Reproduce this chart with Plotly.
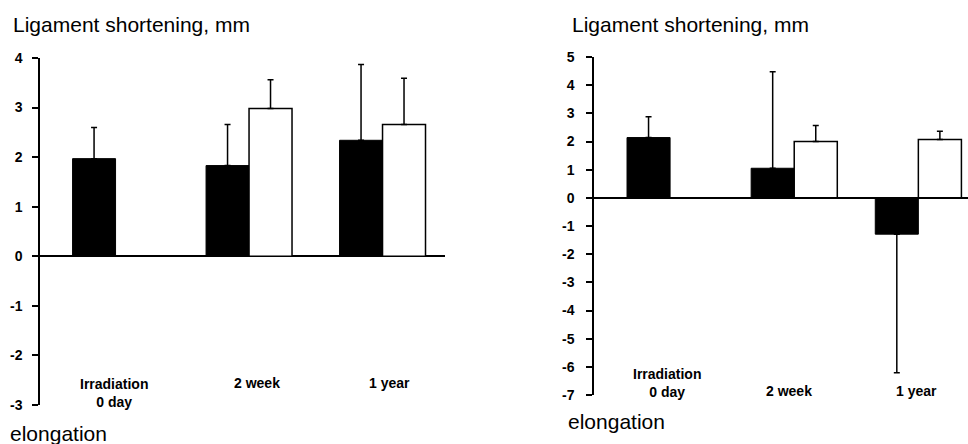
import plotly.graph_objects as go

W, H = 968, 444

# ---- data ----
categories = ["Irradiation<br>0 day", "2 week", "1 year"]

left_black = [1.97, 1.83, 2.34]
left_black_err = [0.63, 0.83, 1.53]
left_white = [None, 2.98, 2.66]
left_white_err = [0, 0.58, 0.93]

right_black = [2.14, 1.05, -1.29]
right_black_err_up = [0.74, 3.43, 0]
right_black_err_down = [0, 0, 4.92]
right_white = [None, 2.00, 2.07]
right_white_err = [0, 0.57, 0.29]

left_tickvals = [-3, -2, -1, 0, 1, 2, 3, 4]
left_ticktext = ["-3", "-2", "-1", "0", "1", "2", "3", "4"]
right_tickvals = [-7, -6, -5, -4, -3, -2, -1, 0, 1, 2, 3, 4, 5]
right_ticktext = ["-7", "-6", "-5", "-4", "-3", "-2", "-1", "0", "1", "2", "3", "4", "5"]

title_text = "Ligament shortening, mm"
bottom_text = "elongation"

FONT = "Liberation Sans, Arial, Helvetica, sans-serif"


def px(x):
    return x / W


def py(y):
    return 1 - y / H


fig = go.Figure()

LW = 0.322  # bar width (category units) left
RW = 0.347  # right

err_style = dict(color="black", thickness=1.5, width=3)

fig.add_trace(go.Bar(
    x=categories, y=left_black, width=LW, offset=-LW,
    marker=dict(color="black", line=dict(color="black", width=1)),
    error_y=dict(type="data", symmetric=False, array=left_black_err,
                 arrayminus=[0, 0, 0], **err_style),
    xaxis="x", yaxis="y", showlegend=False))
fig.add_trace(go.Bar(
    x=categories, y=left_white, width=LW, offset=0,
    marker=dict(color="white", line=dict(color="black", width=1.5)),
    error_y=dict(type="data", symmetric=False, array=left_white_err,
                 arrayminus=[0, 0, 0], **err_style),
    xaxis="x", yaxis="y", showlegend=False))

fig.add_trace(go.Bar(
    x=categories, y=right_black, width=RW, offset=-RW,
    marker=dict(color="black", line=dict(color="black", width=1)),
    error_y=dict(type="data", symmetric=False, array=right_black_err_up,
                 arrayminus=right_black_err_down, **err_style),
    xaxis="x2", yaxis="y2", showlegend=False))
fig.add_trace(go.Bar(
    x=categories, y=right_white, width=RW, offset=0,
    marker=dict(color="white", line=dict(color="black", width=1.5)),
    error_y=dict(type="data", symmetric=False, array=right_white_err,
                 arrayminus=[0, 0, 0], **err_style),
    xaxis="x2", yaxis="y2", showlegend=False))

xaxis_common = dict(showline=False, showticklabels=False, showgrid=False,
                    zeroline=False, ticks="", type="category", automargin=False)
yaxis_common = dict(showline=True, linecolor="black", linewidth=1.5,
                    ticks="outside", ticklen=6, tickwidth=1.5, tickcolor="black",
                    showgrid=False, zeroline=True, zerolinecolor="black",
                    zerolinewidth=1.5, automargin=False,
                    tickfont=dict(family=FONT, size=14, color="black", weight="bold"))

fig.update_layout(
    width=W, height=H, autosize=False,
    margin=dict(l=0, r=0, t=0, b=0, pad=0),
    paper_bgcolor="white", plot_bgcolor="white",
    barmode="overlay",
    font=dict(family=FONT, color="black"),
    xaxis=dict(domain=[px(40), px(445)], range=[-0.566, 2.468], anchor="y", **xaxis_common),
    yaxis=dict(domain=[py(405), py(58)], range=[-3, 4], anchor="x",
               tickvals=left_tickvals, ticktext=left_ticktext,
               ticklabelstandoff=7, **yaxis_common),
    xaxis2=dict(domain=[px(594), 1.0], range=[-0.613, 2.40], anchor="y2", **xaxis_common),
    yaxis2=dict(domain=[py(395), py(57)], range=[-7, 5], anchor="x2",
                tickvals=right_tickvals, ticktext=right_ticktext,
                ticklabelstandoff=9, **yaxis_common),
)

ann = []
title_font = dict(family=FONT, size=21, color="black")
ann.append(dict(text=title_text, xref="paper", yref="paper", x=px(11), y=py(25),
                xanchor="left", yanchor="middle", showarrow=False, font=title_font))
ann.append(dict(text=title_text, xref="paper", yref="paper", x=px(570), y=py(25),
                xanchor="left", yanchor="middle", showarrow=False, font=title_font))
ann.append(dict(text=bottom_text, xref="paper", yref="paper", x=px(8), y=py(433),
                xanchor="left", yanchor="middle", showarrow=False, font=title_font))
ann.append(dict(text=bottom_text, xref="paper", yref="paper", x=px(566), y=py(421),
                xanchor="left", yanchor="middle", showarrow=False, font=title_font))

cat_font = dict(family=FONT, size=14, color="black", weight="bold")
left_shift = [-2, 8, 7]
left_yc = [393, 383, 383]
right_shift = [-3, -5, -2]
right_yc = [382.5, 391, 391]
for i, c in enumerate(categories):
    ann.append(dict(text=c, xref="x", yref="paper", x=c, y=py(left_yc[i]),
                    xshift=left_shift[i], xanchor="center", yanchor="middle",
                    showarrow=False, font=cat_font, align="center"))
    ann.append(dict(text=c, xref="x2", yref="paper", x=c, y=py(right_yc[i]),
                    xshift=right_shift[i], xanchor="center", yanchor="middle",
                    showarrow=False, font=cat_font, align="center"))

fig.update_layout(annotations=ann)

post = ("document.documentElement.style.margin='0';"
        "document.documentElement.style.overflow='hidden';"
        "document.body.style.margin='0';"
        "document.body.style.padding='0';"
        "document.body.style.overflow='hidden';")

fig.write_html("out.html", post_script=post, config={"responsive": False, "displayModeBar": False})
